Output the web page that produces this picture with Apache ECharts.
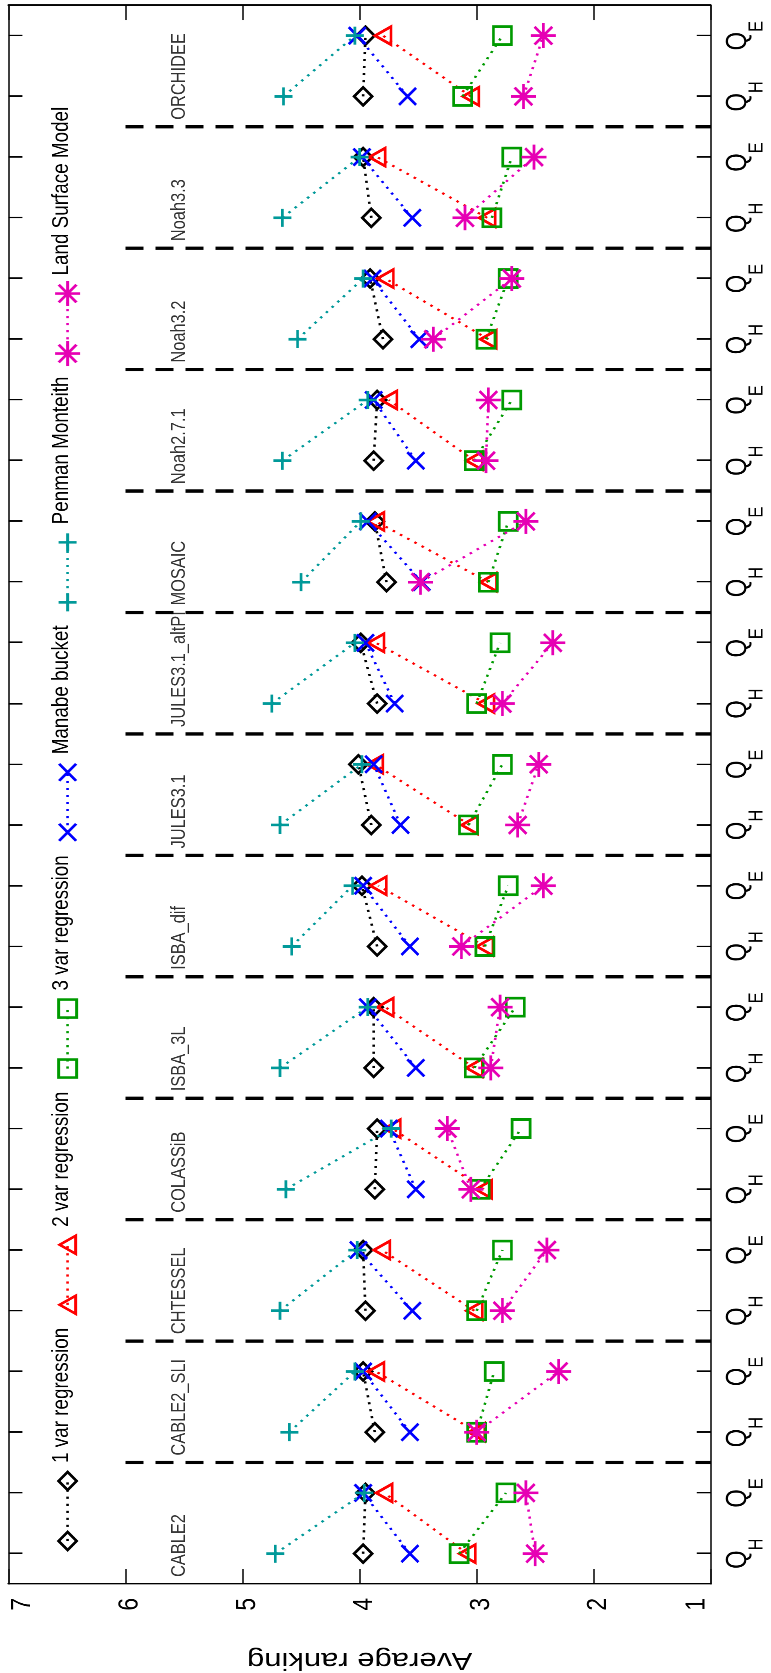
<!DOCTYPE html>
<html><head><meta charset="utf-8">
<script src="https://cdn.jsdelivr.net/npm/echarts@6/dist/echarts.min.js"></script>
<style>
html,body{margin:0;padding:0;background:#fff;overflow:hidden;width:771px;height:1673px;}
#chart{position:absolute;left:0;top:0;height:771px;transform-origin:0 0;background:#fff;}
</style></head><body>
<div id="chart"></div>
<script>
// ---------------- data ----------------
const models = ['CABLE2','CABLE2_SLI','CHTESSEL','COLASSiB','ISBA_3L','ISBA_dif','JULES3.1','JULES3.1_altPI','MOSAIC','Noah2.7.1','Noah3.2','Noah3.3','ORCHIDEE'];
const fluxes = ['H','E'];
const methodNames = ['1 var regression','2 var regression','3 var regression','Manabe bucket','Penman Monteith','Land Surface Model'];
const qhVar1   = [3.97,3.87,3.95,3.87,3.88,3.85,3.90,3.85,3.77,3.88,3.80,3.90,3.97];
const qeVar1   = [3.95,3.97,3.97,3.85,3.88,3.98,4.01,3.99,3.87,3.85,3.91,3.97,3.95];
const qhVar2   = [3.08,3.00,3.02,2.94,3.02,2.93,3.06,2.92,2.90,3.02,2.90,2.91,3.05];
const qeVar2   = [3.79,3.86,3.81,3.72,3.78,3.84,3.87,3.86,3.86,3.75,3.78,3.85,3.80];
const qhVar3   = [3.15,3.00,3.00,2.97,3.02,2.93,3.07,3.00,2.90,3.02,2.92,2.87,3.12];
const qeVar3   = [2.75,2.85,2.78,2.62,2.67,2.73,2.78,2.80,2.73,2.70,2.73,2.70,2.78];
const qhManabe = [3.57,3.57,3.55,3.52,3.52,3.57,3.65,3.70,3.47,3.52,3.49,3.55,3.59];
const qeManabe = [3.97,3.97,4.01,3.75,3.93,3.97,3.88,3.95,3.93,3.88,3.89,3.98,4.02];
const qhPenman = [4.72,4.60,4.68,4.63,4.68,4.58,4.68,4.75,4.50,4.66,4.53,4.66,4.65];
const qePenman = [3.96,4.04,4.02,3.73,3.93,4.06,3.98,4.04,3.99,3.93,3.97,4.00,4.04];
const qhLSM    = [2.50,3.00,2.78,3.05,2.88,3.13,2.65,2.78,3.48,2.92,3.37,3.10,2.60];
const qeLSM    = [2.58,2.30,2.40,3.25,2.80,2.43,2.47,2.35,2.58,2.90,2.70,2.51,2.43];
const rankMin = 1, rankMax = 7, rankStep = 1;
const labelRank = 5.54;   // height of model-name labels
const dividerTop = 6;     // dashed group dividers run from 6 down to 1

// ---------------- styles ----------------
const S = 0.82;                 // horizontal compression of the reference's text
const PAGE_W = 771, PAGE_H = 1673;
const IW = PAGE_H / S;
const FONT = '"Liberation Sans", Arial, Helvetica, sans-serif';
const styles = [
  {color:'#000000', symbol:'diamond',  w:18, h:18, kind:'diamond'},
  {color:'#ff0000', symbol:'triangle', w:18, h:16, kind:'triangle'},
  {color:'#009a00', symbol:'rect',     w:18, h:18, kind:'square'},
  {color:'#0000ff', symbol:'path://M0,0L10,10M10,0L0,10', w:17, h:17, kind:'x'},
  {color:'#009999', symbol:'path://M5,0L5,10M0,5L10,5', w:18, h:18, kind:'plus'},
  {color:'#e600b4', symbol:'path://M5,0L5,10M0,5L10,5M1.46,1.46L8.54,8.54M8.54,1.46L1.46,8.54', w:25, h:25, kind:'star'}
];
const LW = 2.6, MW = 3;

const el = document.getElementById('chart');
el.style.width = IW + 'px';
el.style.transform = 'translate(0px,' + PAGE_H + 'px) rotate(-90deg) scaleX(' + S + ')';

const cats = [];
models.forEach(m => fluxes.forEach(f => cats.push(m + ' Q' + f)));

const seriesData = [[qhVar1,qeVar1],[qhVar2,qeVar2],[qhVar3,qeVar3],[qhManabe,qeManabe],[qhPenman,qePenman],[qhLSM,qeLSM]];
function pairs(qh, qe){
  const out = [];
  models.forEach((m,g) => {
    out.push([m + ' QH', qh[g]]);
    out.push([m + ' QE', qe[g]]);
    out.push([m + ' QE', '-']);
  });
  return out;
}

const series = [];
const divData = [];
for (let g = 1; g < models.length; g++) {
  divData.push([2*g, dividerTop], [2*g, rankMin], [2*g, '-']);
}
series.push({type:'line', xAxisIndex:2, yAxisIndex:0, data:divData, symbol:'none', silent:true, z:1,
  lineStyle:{color:'#000', width:3.3/S, type:[18,12]}});

methodNames.forEach((name,i) => {
  const st = styles[i];
  series.push({
    type:'line', name, xAxisIndex:0, yAxisIndex:0, data:pairs(seriesData[i][0], seriesData[i][1]),
    symbol:st.symbol, symbolSize:[st.w/S, st.h], showSymbol:true, showAllSymbol:true,
    connectNulls:false, silent:true, z:2+i,
    lineStyle:{color:st.color, width:LW, type:[LW,6]},
    itemStyle:{color:'rgba(0,0,0,0)', borderColor:st.color, borderWidth:MW}
  });
});

series.push({type:'scatter', xAxisIndex:2, yAxisIndex:0, symbolSize:0, silent:true, z:10,
  data: models.map((m,g) => ({name:m, value:[2*g, labelRank]})),
  label:{show:true, position:'right', distance:7/S, formatter:'{b}', color:'#000', fontSize:20, fontFamily:FONT}});

// ---------------- legend (graphic) ----------------
const LFS = 23;
const mctx = document.createElement('canvas').getContext('2d');
mctx.font = LFS + 'px "Liberation Sans"';
const graphics = [];
const LY = 67.6;
let x0 = 132;
function markerEls(kind, cxD, cy, color){
  const cx = cxD / S;
  const st = {stroke:color, lineWidth:MW, fill:null};
  const hw = 9/S, hh = 9;
  switch(kind){
    case 'diamond': return [{type:'polygon', shape:{points:[[cx,cy-hh],[cx+hw,cy],[cx,cy+hh],[cx-hw,cy]]}, style:st}];
    case 'triangle': return [{type:'polygon', shape:{points:[[cx,cy-8],[cx+hw,cy+8],[cx-hw,cy+8]]}, style:st}];
    case 'square': return [{type:'rect', shape:{x:cx-hw, y:cy-hh, width:2*hw, height:2*hh}, style:st}];
    case 'x': return [
      {type:'line', shape:{x1:cx-8.5/S,y1:cy-8.5,x2:cx+8.5/S,y2:cy+8.5}, style:st},
      {type:'line', shape:{x1:cx+8.5/S,y1:cy-8.5,x2:cx-8.5/S,y2:cy+8.5}, style:st}];
    case 'plus': return [
      {type:'line', shape:{x1:cx,y1:cy-9,x2:cx,y2:cy+9}, style:st},
      {type:'line', shape:{x1:cx-9/S,y1:cy,x2:cx+9/S,y2:cy}, style:st}];
    default: {
      const r = 12.5, d = 12.5*0.707;
      return [
      {type:'line', shape:{x1:cx,y1:cy-r,x2:cx,y2:cy+r}, style:st},
      {type:'line', shape:{x1:cx-r/S,y1:cy,x2:cx+r/S,y2:cy}, style:st},
      {type:'line', shape:{x1:cx-d/S,y1:cy-d,x2:cx+d/S,y2:cy+d}, style:st},
      {type:'line', shape:{x1:cx+d/S,y1:cy-d,x2:cx-d/S,y2:cy+d}, style:st}];
    }
  }
}
methodNames.forEach((name,i) => {
  const st = styles[i];
  const m1 = x0, m2 = x0 + 60, t0 = m2 + 18;
  const tw = mctx.measureText(name).width * S;
  graphics.push({type:'line', silent:true, shape:{x1:m1/S, y1:LY, x2:m2/S, y2:LY}, style:{stroke:st.color, lineWidth:LW, lineDash:[LW,6]}});
  markerEls(st.kind, m1, LY, st.color).forEach(e => graphics.push(Object.assign({silent:true}, e)));
  markerEls(st.kind, m2, LY, st.color).forEach(e => graphics.push(Object.assign({silent:true}, e)));
  graphics.push({type:'text', silent:true, x:t0/S, y:LY-6, style:{text:name, font:LFS + 'px ' + FONT, fill:'#000', verticalAlign:'middle', align:'left'}});
  x0 = t0 + tw + 23;
});

// ---------------- chart ----------------
const chart = echarts.init(el, null, {renderer:'canvas', width:IW, height:771, devicePixelRatio:2});
const axisLineH = {show:true, lineStyle:{color:'#000', width:1.6}};
const axisLineV = {show:true, lineStyle:{color:'#000', width:1.6/S}};
const tickFont = {fontSize:28, fontFamily:FONT, color:'#000'};
chart.setOption({
  animation:false,
  backgroundColor:'#fff',
  grid:{left:89/S, right:IW - 1667.7/S, top:8.4, bottom:771-710.8, containLabel:false, outerBoundsMode:'none'},
  xAxis:[
    {type:'category', data:cats, position:'bottom', boundaryGap:true,
     axisLine:axisLineH,
     axisTick:{show:true, inside:true, alignWithLabel:true, interval:0, length:14, lineStyle:{color:'#000', width:1.6/S}},
     axisLabel:{show:true, interval:0, margin:27, color:'#000', hideOverlap:false,
       formatter: v => '{q|Q}{s|' + v.slice(-1) + '}',
       rich:{q:{fontSize:29, fontFamily:FONT, color:'#000', lineHeight:29, padding:[0,0,14.5,0], verticalAlign:'bottom'},
             s:{fontSize:20, fontFamily:FONT, color:'#000', lineHeight:20, verticalAlign:'bottom'}}},
     splitLine:{show:false}},
    {type:'category', data:cats, position:'top', boundaryGap:true,
     axisLine:axisLineH,
     axisTick:{show:true, inside:true, alignWithLabel:true, interval:0, length:14, lineStyle:{color:'#000', width:1.6/S}},
     axisLabel:{show:false}, splitLine:{show:false}},
    {type:'value', min:0, max:cats.length, show:false}
  ],
  yAxis:[
    {type:'value', min:rankMin, max:rankMax, interval:rankStep, position:'left',
     axisLine:axisLineV,
     axisTick:{show:true, inside:true, length:15/S, lineStyle:{color:'#000', width:1.6}},
     axisLabel:{margin:17, color:'#000', hideOverlap:false,
       verticalAlignMaxLabel:'top', verticalAlignMinLabel:'bottom',
       formatter: v => (v === rankMax || v === rankMin) ? '{e|' + v + '}' : '{n|' + v + '}',
       rich:{e:Object.assign({}, tickFont), n:Object.assign({padding:[9,0,0,0]}, tickFont)}},
     splitLine:{show:false},
     name:'Average ranking', nameLocation:'middle', nameGap:77, nameRotate:90,
     nameTextStyle:{fontSize:31, color:'#000', fontFamily:FONT}},
    {type:'value', min:rankMin, max:rankMax, interval:rankStep, position:'right',
     axisLine:axisLineV,
     axisTick:{show:true, inside:true, length:15/S, lineStyle:{color:'#000', width:1.6}},
     axisLabel:{show:false}, splitLine:{show:false}}
  ],
  series,
  graphic: graphics
});
</script>
</body></html>
